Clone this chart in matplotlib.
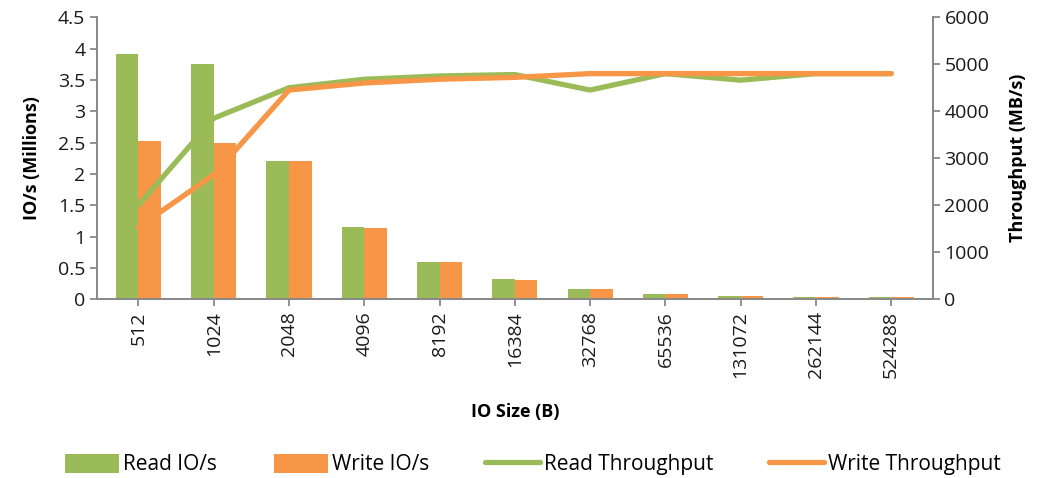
import matplotlib.pyplot as plt
import numpy as np

plt.rcParams['font.family'] = ['Open Sans', 'DejaVu Sans']

sizes = ['512', '1024', '2048', '4096', '8192', '16384', '32768',
         '65536', '131072', '262144', '524288']
read_iops = [3.92, 3.75, 2.20, 1.16, 0.60, 0.32, 0.16, 0.08, 0.045, 0.03, 0.03]
write_iops = [2.52, 2.50, 2.20, 1.14, 0.60, 0.30, 0.16, 0.08, 0.045, 0.03, 0.03]
read_tp = [2000, 3850, 4500, 4680, 4750, 4780, 4450, 4800, 4660, 4800, 4800]
write_tp = [1530, 2650, 4450, 4600, 4680, 4720, 4800, 4800, 4800, 4800, 4800]

green = '#9BBB59'
orange = '#F79646'
axcol = '#898989'

fig = plt.figure(figsize=(10.55, 4.78), dpi=100)
ax = fig.add_axes([0.092, 0.374, 0.792, 0.59])
ax2 = ax.twinx()

x = np.arange(len(sizes))
w = 0.3
ax.bar(x - w/2, read_iops, w, color=green, label='Read IO/s')
ax.bar(x + w/2, write_iops, w, color=orange, label='Write IO/s')
ax2.plot(x, read_tp, color=green, lw=3.8, label='Read Throughput', solid_capstyle='round')
ax2.plot(x, write_tp, color=orange, lw=3.8, label='Write Throughput', solid_capstyle='round')

ax.set_xlim(-0.55, len(sizes) - 0.45)
ax.set_ylim(0, 4.5)
ax.set_yticks(np.arange(0, 4.51, 0.5))
ax.set_yticklabels(['0', '0.5', '1', '1.5', '2', '2.5', '3', '3.5', '4', '4.5'])
ax2.set_ylim(0, 6000)
ax2.set_yticks(range(0, 6001, 1000))

ax.set_xticks(x)
ax.set_xticklabels(sizes, rotation=90, fontsize=14, color='#1a1a1a')

for a in (ax, ax2):
    a.spines['top'].set_visible(False)
    for s in ('left', 'right', 'bottom'):
        a.spines[s].set_color(axcol)
        a.spines[s].set_linewidth(1.3)
    a.tick_params(colors=axcol, labelcolor='#1a1a1a', labelsize=14, length=5, width=1.3)

ax.set_ylabel('IO/s (Millions)', fontsize=13, fontweight='bold', labelpad=12)
ax2.set_ylabel('Throughput (MB/s)', fontsize=13, fontweight='bold', labelpad=14)
ax.set_xlabel('IO Size (B)', fontsize=13, fontweight='bold', labelpad=18)

h1, l1 = ax.get_legend_handles_labels()
h2, l2 = ax2.get_legend_handles_labels()
fig.legend(h1 + h2, l1 + l2, loc='center', bbox_to_anchor=(0.505, 0.028), ncol=4,
           frameon=False, handlelength=2.6, handleheight=1.0,
           columnspacing=2.7, handletextpad=0.2, fontsize=15)

fig.savefig('out.png', dpi=100)
